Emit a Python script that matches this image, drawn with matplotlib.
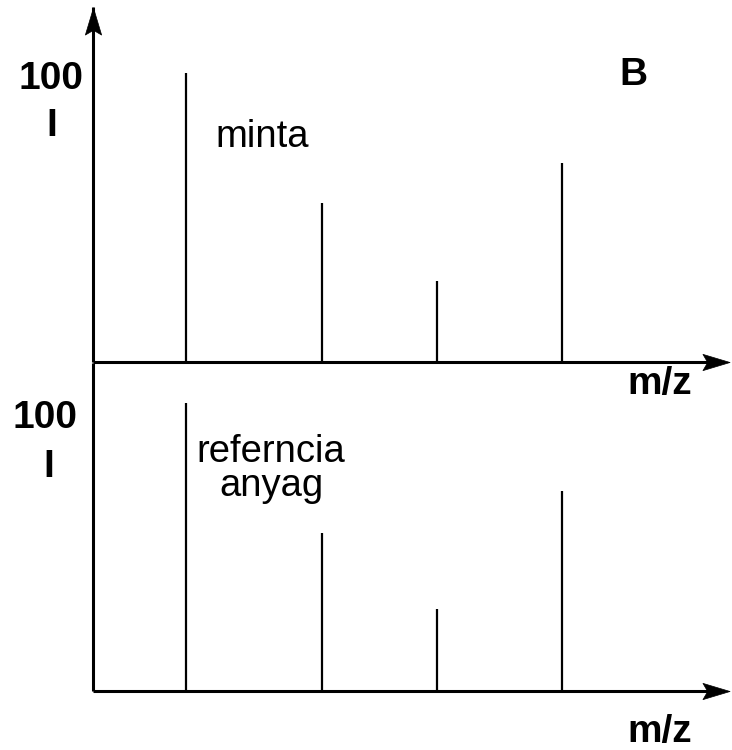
import matplotlib
matplotlib.use('Agg')
import matplotlib.pyplot as plt
from matplotlib.path import Path
from matplotlib.transforms import offset_copy

plt.rcParams['font.family'] = ['Liberation Sans', 'DejaVu Sans']

# peak positions (arbitrary m/z units) and relative intensities
mz = [14.6, 35.9, 54.0, 73.6]
minta_int = [100, 55, 28, 69]
ref_int = [100, 55, 28.5, 69.5]

panel_label = 'B'
y_top_label = '100'
y_label = 'I'
x_label = 'm/z'
sample_label = 'minta'
ref_label = ['referncia', 'anyag']

fig = plt.figure(figsize=(7.32, 7.5), dpi=100)
ax_top = fig.add_axes([0.1270, 0.5173, 0.8702, 0.3853])
ax_bot = fig.add_axes([0.1270, 0.0787, 0.8702, 0.3840])

# notched arrow heads
head_len = 19.5  # points
right_head = Path([(1, 0), (-1, 0.6), (-0.65, 0), (-1, -0.6), (1, 0)],
                  [Path.MOVETO, Path.LINETO, Path.LINETO, Path.LINETO, Path.CLOSEPOLY])
up_head = Path([(0, 1), (0.6, -1), (0, -0.65), (-0.6, -1), (0, 1)],
               [Path.MOVETO, Path.LINETO, Path.LINETO, Path.LINETO, Path.CLOSEPOLY])


def setup(ax, intens, vtop, arrow_up):
    ax.set_xlim(0, 100)
    ax.set_ylim(0, 100)
    ax.axis('off')
    ax.vlines(mz, 0, intens, colors='black', lw=1.6)
    # x axis with arrow
    ax.plot([0, 0.99], [0, 0], color='black', lw=2.2, transform=ax.transAxes,
            clip_on=False, solid_capstyle='butt')
    tr = offset_copy(ax.transAxes, fig=fig, x=-head_len / 2, y=0, units='points')
    ax.plot([1], [0], marker=right_head, ms=head_len, color='black', mew=0.5,
            transform=tr, clip_on=False)
    # y axis
    ax.plot([0, 0], [0, vtop], color='black', lw=2.2, transform=ax.transAxes,
            clip_on=False, solid_capstyle='butt')
    if arrow_up:
        tr = offset_copy(ax.transAxes, fig=fig, x=0, y=-head_len / 2, units='points')
        ax.plot([0], [vtop], marker=up_head, ms=head_len, color='black', mew=0.5,
                transform=tr, clip_on=False)


setup(ax_top, minta_int, 1.228, True)
setup(ax_bot, ref_int, 1.14, False)

bold = dict(fontsize=28, fontweight='bold', ha='center', va='baseline')
reg = dict(fontsize=27.5, va='baseline')

# top panel
ax_top.text(-0.066, 0.945, y_top_label, transform=ax_top.transAxes, **bold)
ax_top.text(-0.064, 0.782, y_label, transform=ax_top.transAxes, **bold)
ax_top.text(0.849, 0.958, panel_label, transform=ax_top.transAxes, **bold)
ax_top.text(0.192, 0.744, sample_label, transform=ax_top.transAxes, ha='left', **reg)
ax_top.text(0.890, -0.111, x_label, transform=ax_top.transAxes, **bold)

# bottom panel
ax_bot.text(-0.075, 0.913, y_top_label, transform=ax_bot.transAxes, **bold)
ax_bot.text(-0.069, 0.743, y_label, transform=ax_bot.transAxes, **bold)
ax_bot.text(0.279, 0.795, ref_label[0], transform=ax_bot.transAxes, ha='center', **reg)
ax_bot.text(0.281, 0.677, ref_label[1], transform=ax_bot.transAxes, ha='center', **reg)
ax_bot.text(0.890, -0.177, x_label, transform=ax_bot.transAxes, **bold)

fig.savefig('out.png', dpi=100)
